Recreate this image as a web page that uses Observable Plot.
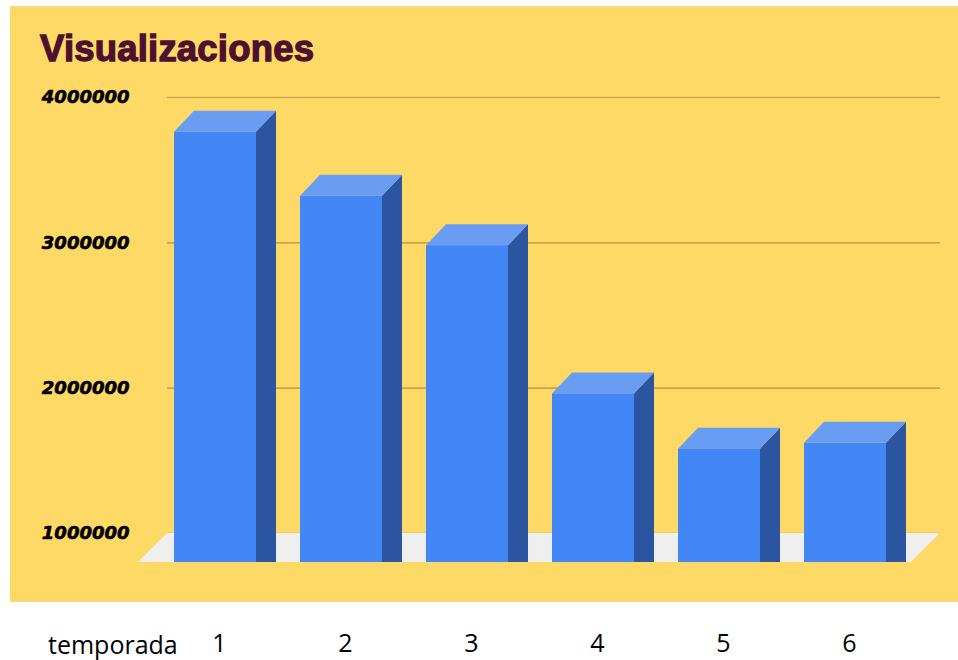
<!DOCTYPE html>
<html>
<head>
<meta charset="utf-8">
<script src="https://cdn.jsdelivr.net/npm/d3@7"></script>
<script src="https://cdn.jsdelivr.net/npm/@observablehq/plot@0.6"></script>
<style>
  html, body { margin: 0; padding: 0; background: #ffffff; }
  #wrap { position: relative; width: 958px; height: 660px; overflow: hidden; }
  #panel { position: absolute; left: 10px; top: 6px; width: 948px; height: 596px; background: #ffd966; }
  #title { position: absolute; left: 40px; top: 31px; font-family: "Liberation Sans", Arial, sans-serif;
           font-weight: bold; font-size: 36.5px; line-height: 36px; color: #4c1130;
           -webkit-text-stroke: 1.3px #4c1130; letter-spacing: 0.2px; white-space: nowrap; }
  #chart { position: absolute; left: 0; top: 0; }
  #xlab { position: absolute; left: 48px; top: 627px; font-family: "Open Sans", sans-serif;
          font-size: 25px; line-height: 34px; color: #000; white-space: nowrap; }
</style>
</head>
<body>
<div id="wrap">
  <div id="panel"></div>
  <div id="title">Visualizaciones</div>
  <div id="chart"></div>
  <div id="xlab">temporada</div>
</div>
<script>
// ---- data ----
const seasons = ["1", "2", "3", "4", "5", "6"];
const views = [3960000, 3520000, 3180000, 2160000, 1780000, 1820000];
const yTicks = [1000000, 2000000, 3000000, 4000000];
const baseValue = 1000000;
const maxValue = 4000000;

const data = seasons.map((s, i) => ({season: s, views: views[i]}));

// ---- style ----
const FRONT = "#4287f5", SIDE = "#2b55a1", TOP = "#699df4", FLOOR = "#efefef", GRID = "#c8a64c";
const FLOOR_DEPTH = 29;  // px offset of floor front edge
const BAR_DX = 20, BAR_DY = 21; // 3D extrusion of bars

function floorMark(index, scales, values, dimensions) {
  const {marginLeft, marginRight, width} = dimensions;
  const x0 = marginLeft, x1 = width - marginRight;
  const yb = scales.y(baseValue);
  const g = d3.create("svg:g");
  g.append("polygon")
    .attr("points", [[x0, yb], [x1, yb], [x1 - FLOOR_DEPTH, yb + FLOOR_DEPTH], [x0 - FLOOR_DEPTH, yb + FLOOR_DEPTH]].map(p => p.join(",")).join(" "))
    .attr("fill", FLOOR);
  return g.node();
}

function bars3d(index, scales, values, dimensions) {
  const bw = scales.x.bandwidth();
  const yb = scales.y(baseValue) + FLOOR_DEPTH;
  const g = d3.create("svg:g");
  for (const i of index) {
    const d = data[i];
    const xl = scales.x(d.season), xr = xl + bw;
    const yt = scales.y(d.views) + FLOOR_DEPTH;
    const pts = a => a.map(p => p.join(",")).join(" ");
    g.append("polygon").attr("fill", SIDE)
      .attr("points", pts([[xr, yt], [xr + BAR_DX, yt - BAR_DY], [xr + BAR_DX, yb], [xr, yb]]));
    g.append("polygon").attr("fill", TOP)
      .attr("points", pts([[xl, yt], [xr, yt], [xr + BAR_DX, yt - BAR_DY], [xl + BAR_DX, yt - BAR_DY]]));
    g.append("rect").attr("fill", FRONT)
      .attr("x", xl).attr("y", yt).attr("width", bw).attr("height", yb - yt);
  }
  return g.node();
}

const chart = Plot.plot({
  width: 958,
  height: 660,
  marginLeft: 167,
  marginRight: 18,
  marginTop: 97,
  marginBottom: 127,
  style: {background: "transparent", overflow: "visible"},
  x: {type: "band", domain: seasons, paddingInner: 0.352, paddingOuter: 0.0475, insetRight: 47},
  y: {domain: [baseValue, maxValue]},
  marks: [
    Plot.gridY(yTicks, {stroke: GRID, strokeOpacity: 1, strokeWidth: 1.6}),
    floorMark,
    Plot.barY(data, {x: "season", y1: baseValue, y2: "views", render: bars3d}),
    Plot.axisY({ticks: yTicks, tickFormat: d => String(d), tickSize: 0, tickPadding: 38,
      fontFamily: "DejaVu Sans", fontWeight: "bold", fontStyle: "italic", fontSize: 18, fill: "#000",
      textStroke: "#000", textStrokeWidth: 0.6, label: null}),
    Plot.axisX({tickSize: 0, tickPadding: 101, dx: 4, fontFamily: "Open Sans", fontSize: 25, fill: "#000", label: null})
  ]
});
document.getElementById("chart").appendChild(chart);
</script>
</body>
</html>
